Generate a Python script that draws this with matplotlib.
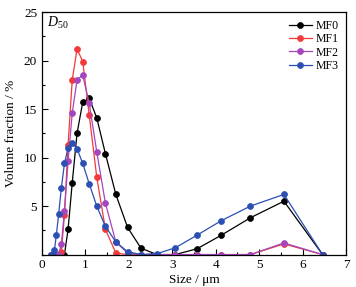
import matplotlib
matplotlib.use("Agg")
import matplotlib.pyplot as plt
from matplotlib.ticker import MultipleLocator

plt.rcParams['font.family'] = ['Liberation Serif', 'DejaVu Serif']
plt.rcParams['mathtext.fontset'] = 'custom'
plt.rcParams['mathtext.rm'] = 'Liberation Serif'
plt.rcParams['mathtext.it'] = 'Liberation Serif:italic'

sizes = [0.21, 0.245, 0.285, 0.33, 0.384, 0.446, 0.517, 0.60, 0.696, 0.807, 0.937,
         1.087, 1.26, 1.46, 1.70, 1.97, 2.28, 2.65, 3.07, 3.57, 4.13, 4.80, 5.57, 6.46]
mf0 = [0, 0, 0, 0, 0, 0, 0, 2.6, 7.4, 12.5, 15.7, 16.1, 14.1, 10.4, 6.2, 2.8, 0.65,
       0, 0, 0.6, 2.0, 3.8, 5.5, 0]
mf1 = [0, 0, 0, 0, 0, 0.3, 4.1, 11.3, 18.0, 21.2, 19.9, 14.4, 8.0, 2.6, 0.15, 0, 0,
       0, 0, 0, 0, 0, 1.1, 0]
mf2 = [0, 0, 0, 0, 0, 1.1, 4.5, 9.6, 14.6, 18.0, 18.5, 15.6, 10.6, 5.3, 1.3, 0.15, 0,
       0, 0, 0, 0, 0, 1.2, 0]
mf3 = [0, 0, 0.45, 2.0, 4.2, 6.9, 9.4, 11.0, 11.5, 10.9, 9.4, 7.3, 5.0, 2.9, 1.3, 0.3,
       0, 0.1, 0.7, 2.0, 3.5, 5.0, 6.2, 0]
series = [("MF0", mf0, "#000000"), ("MF1", mf1, "#f23a3a"),
          ("MF2", mf2, "#a447bd"), ("MF3", mf3, "#2b4fb3")]

fig = plt.figure(figsize=(3.56, 2.87), dpi=100)
ax = fig.add_axes([0.118, 0.113, 0.854, 0.845])

for name, vals, col in series:
    ax.plot(sizes, vals, '-o', color=col, lw=0.9, ms=4.3,
            mfc=col, mec=col, mew=0.5, label=name, zorder=3)

ax.set_xlim(0, 7)
ax.set_ylim(0, 25)
ax.xaxis.set_major_locator(MultipleLocator(1))
ax.xaxis.set_minor_locator(MultipleLocator(0.5))
ax.yaxis.set_minor_locator(MultipleLocator(2.5))
ax.set_yticks([5, 10, 15, 20, 25])
ax.tick_params(which='both', direction='in', labelsize=9.5, top=False, right=False)
ax.tick_params(which='major', length=4, width=0.8)
ax.tick_params(which='minor', length=2.2, width=0.8)
for s in ax.spines.values():
    s.set_linewidth(0.9)
    s.set_zorder(4)

ax.set_xlabel('Size / μm', fontsize=9.5, labelpad=2)
ax.set_ylabel('Volume fraction / %', fontsize=9.5, labelpad=5)
ax.text(0.018, 0.955, r'$D_{50}$', transform=ax.transAxes, fontsize=10, va='center')

leg = ax.legend(loc='upper right', frameon=False, fontsize=8.5, handlelength=2.0,
                handletextpad=0.25, labelspacing=0.12, borderaxespad=0.25)

fig.savefig('out.png', dpi=100)
